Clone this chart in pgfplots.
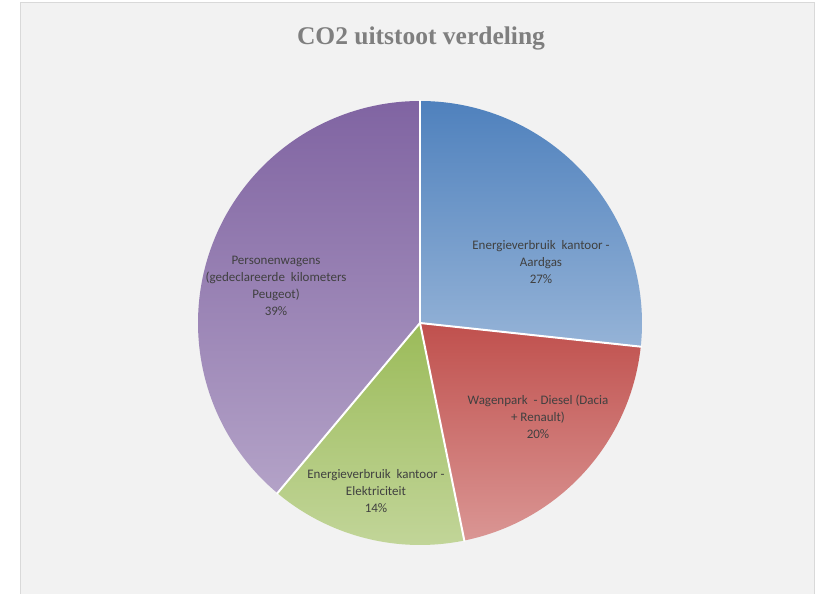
\documentclass[border=0pt]{standalone}
\usepackage{pgfplots}
\usepackage{pgfplotstable}
\pgfplotsset{compat=1.18}
\usepackage{fontspec}
\setmainfont{Carlito}
\newfontfamily\titlefont{Liberation Serif}
\definecolor{bgc}{HTML}{F2F2F2}
\definecolor{brd}{HTML}{D9D9D9}
\definecolor{blueT}{HTML}{4F81BD}\definecolor{blueB}{HTML}{95B3D7}
\definecolor{redT}{HTML}{C0504D}\definecolor{redB}{HTML}{DA9694}
\definecolor{greenT}{HTML}{9BBB59}\definecolor{greenB}{HTML}{C3D69B}
\definecolor{purT}{HTML}{8064A2}\definecolor{purB}{HTML}{B3A2C7}
\definecolor{txt}{HTML}{404040}
\definecolor{ttl}{HTML}{7F7F7F}
\pgfplotstableread{
idx value
0 26.7
1 20.1
2 14.3
3 38.9
}\piedata
\begin{document}
\begin{tikzpicture}
\pgfplotstablegetelem{0}{value}\of\piedata\let\va\pgfplotsretval
\pgfplotstablegetelem{1}{value}\of\piedata\let\vb\pgfplotsretval
\pgfplotstablegetelem{2}{value}\of\piedata\let\vc\pgfplotsretval
\pgfplotstablegetelem{3}{value}\of\piedata\let\vd\pgfplotsretval
\pgfmathsetmacro\aA{90}
\pgfmathsetmacro\aB{\aA-3.6*\va}
\pgfmathsetmacro\aC{\aB-3.6*\vb}
\pgfmathsetmacro\aD{\aC-3.6*\vc}
\pgfmathsetmacro\aE{\aD-3.6*\vd}
\begin{axis}[scale only axis, width=825pt, height=594pt,
  xmin=0, xmax=825, ymin=0, ymax=594, hide axis, clip=false]
\fill[white] (axis cs:0,0) rectangle (axis cs:825,594);
\fill[bgc] (axis cs:20,0) rectangle (axis cs:814,591);
\draw[brd, line width=1pt] (axis cs:20,0) -- (axis cs:20,591) -- (axis cs:814,591) -- (axis cs:814,0);
% slices
\path[top color=blueT, bottom color=blueB] (axis cs:420,271) -- ([shift={(\aA:222pt)}]axis cs:420,271) arc[start angle=\aA, end angle=\aB, radius=222pt] -- cycle;
\path[top color=redT, bottom color=redB] (axis cs:420,271) -- ([shift={(\aB:222pt)}]axis cs:420,271) arc[start angle=\aB, end angle=\aC, radius=222pt] -- cycle;
\path[top color=greenT, bottom color=greenB] (axis cs:420,271) -- ([shift={(\aC:222pt)}]axis cs:420,271) arc[start angle=\aC, end angle=\aD, radius=222pt] -- cycle;
\path[top color=purT, bottom color=purB] (axis cs:420,271) -- ([shift={(\aD:222pt)}]axis cs:420,271) arc[start angle=\aD, end angle=\aE, radius=222pt] -- cycle;
\draw[white, line width=2pt] (axis cs:420,271) -- ([shift={(\aA:223pt)}]axis cs:420,271);
\draw[white, line width=2pt] (axis cs:420,271) -- ([shift={(\aB:223pt)}]axis cs:420,271);
\draw[white, line width=2pt] (axis cs:420,271) -- ([shift={(\aC:223pt)}]axis cs:420,271);
\draw[white, line width=2pt] (axis cs:420,271) -- ([shift={(\aD:223pt)}]axis cs:420,271);
% labels
\begin{scope}[every node/.style={align=center, text=txt, font=\fontsize{13}{17}\selectfont, inner sep=0pt}]
\node at (axis cs:541,332) {Energieverbruik\ \ kantoor -\\Aardgas\\27\%};
\node at (axis cs:538,177) {Wagenpark\ \ - Diesel (Dacia\\+ Renault)\\20\%};
\node at (axis cs:376,103) {Energieverbruik\ \ kantoor -\\Elektriciteit\\14\%};
\node at (axis cs:276,308) {Personenwagens\\(gedeclareerde\ \ kilometers\\Peugeot)\\39\%};
\end{scope}
\node[anchor=base, text=ttl, inner sep=0pt, font=\titlefont\bfseries\fontsize{25.5}{30}\selectfont] at (axis cs:421,549) {CO2 uitstoot verdeling};
\end{axis}
\end{tikzpicture}
\end{document}
